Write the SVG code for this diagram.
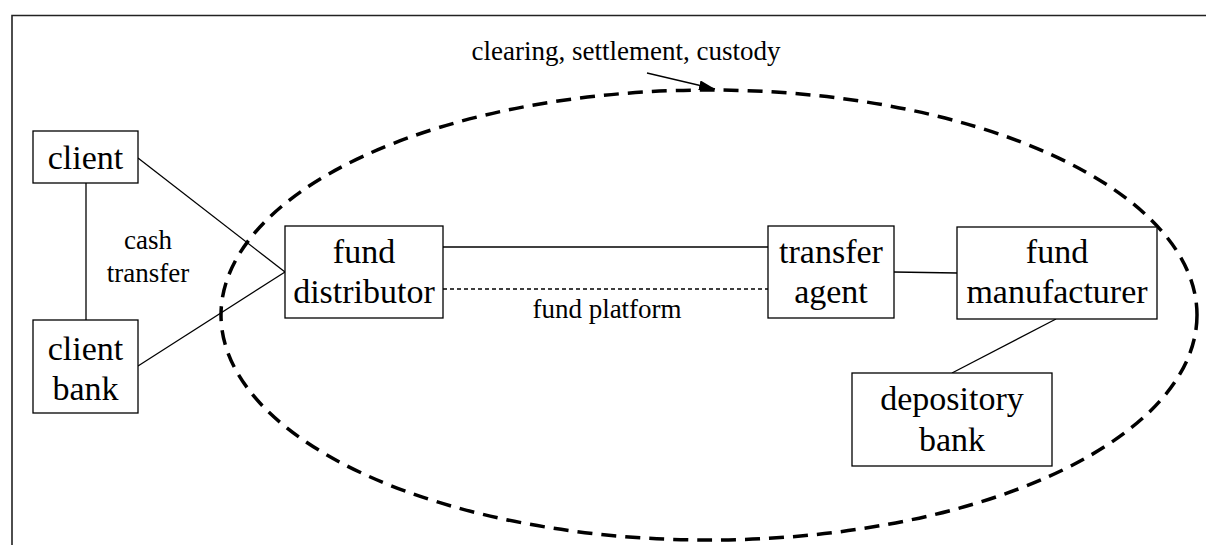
<svg xmlns="http://www.w3.org/2000/svg" width="1206" height="545" viewBox="0 0 1206 545">
<style>
.box{fill:#fff;stroke:#000;stroke-width:1.3}
.big{font-size:34px;text-anchor:middle;fill:#000}
.small{font-size:27px;text-anchor:middle;fill:#000}
.ln{stroke:#000;stroke-width:1.3;fill:none}
</style>
<defs>
<marker id="ah" viewBox="0 0 16 10" refX="16" refY="5" markerWidth="16" markerHeight="10" markerUnits="userSpaceOnUse" orient="auto">
<path d="M0,0 L16,5 L0,10 Z" fill="#000"/>
</marker>
</defs>
<rect width="1206" height="545" fill="#fff"/>
<path d="M12,545 V15.5 H1206" fill="none" stroke="#222" stroke-width="1.6"/>
<g id="connectors">
<line class="ln" x1="86" y1="183" x2="86" y2="320"/>
<line class="ln" x1="138" y1="158" x2="285" y2="272"/>
<line class="ln" x1="138" y1="366" x2="285" y2="272"/>
<line class="ln" x1="443" y1="247" x2="768" y2="247"/>
<line class="ln" x1="443" y1="289" x2="768" y2="289" stroke-dasharray="4 3"/>
<line class="ln" x1="894" y1="272" x2="957" y2="273"/>
<line class="ln" x1="1056" y1="319" x2="952" y2="373"/>
<line class="ln" x1="647" y1="73" x2="715" y2="89" marker-end="url(#ah)"/>
</g>
<ellipse id="scope" cx="709" cy="315" rx="488" ry="225" fill="none" stroke="#000" stroke-width="3.5" stroke-dasharray="15 9"/>
<g font-family="Liberation Serif, Times New Roman, Tinos, DejaVu Serif, Noto Serif, serif">
<g id="client">
<rect class="box" x="33" y="131" width="105" height="52"/>
<text class="big" x="85.5" y="169">client</text>
</g>
<g id="client-bank">
<rect class="box" x="33" y="320" width="105" height="93"/>
<text class="big" x="85.5" y="360">client</text>
<text class="big" x="85.5" y="400">bank</text>
</g>
<g id="fund-distributor">
<rect class="box" x="285" y="226" width="158" height="92"/>
<text class="big" x="364" y="263">fund</text>
<text class="big" x="364" y="303">distributor</text>
</g>
<g id="transfer-agent">
<rect class="box" x="768" y="226" width="126" height="92"/>
<text class="big" x="831" y="263">transfer</text>
<text class="big" x="831" y="303">agent</text>
</g>
<g id="fund-manufacturer">
<rect class="box" x="957" y="227" width="200" height="92"/>
<text class="big" x="1057" y="263">fund</text>
<text class="big" x="1057" y="303">manufacturer</text>
</g>
<g id="depository-bank">
<rect class="box" x="852" y="373" width="200" height="93"/>
<text class="big" x="952" y="410">depository</text>
<text class="big" x="952" y="451">bank</text>
</g>
<g id="labels">
<text class="small" x="148" y="249">cash</text>
<text class="small" x="148" y="282">transfer</text>
<text class="small" x="607" y="318">fund platform</text>
<text class="small" x="626" y="60">clearing, settlement, custody</text>
</g>
</g>
</svg>
